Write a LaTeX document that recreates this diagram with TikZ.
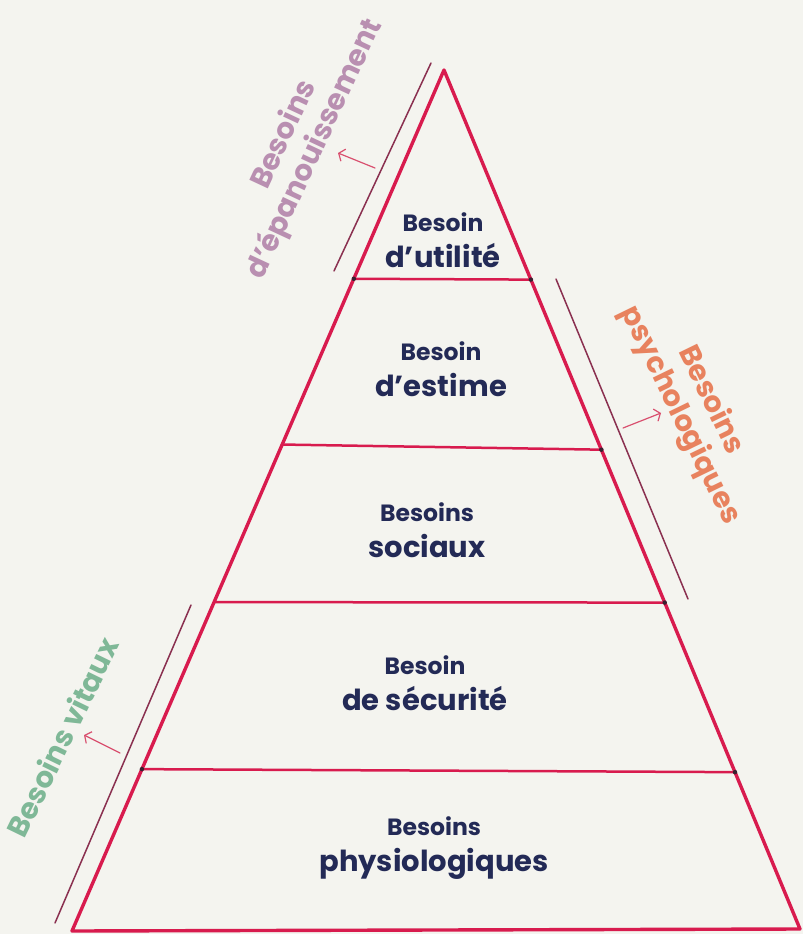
\documentclass[tikz,border=0pt]{standalone}
\usepackage{fontspec}
\setmainfont{Poppins}
\usetikzlibrary{arrows.meta,calc}
\definecolor{paper}{HTML}{F4F4EF}
\definecolor{thread}{HTML}{D81B4E}
\definecolor{guide}{HTML}{8A3050}
\definecolor{pointer}{HTML}{D9506F}
\definecolor{ink}{HTML}{232A56}
\definecolor{knot}{HTML}{3A2030}
\definecolor{mauve}{HTML}{B98FB1}
\definecolor{coral}{HTML}{E8825E}
\definecolor{sage}{HTML}{7FB897}
\newcommand\tiertext[2]{{\fontsize{23.5}{26}\selectfont #1}\\[11pt]{\fontsize{29}{32}\selectfont #2}}
\begin{document}
\begin{tikzpicture}[x=1pt,y=-1pt,
  edge/.style={draw=thread,line width=3.4pt,line join=round,line cap=round},
  rung/.style={draw=thread,line width=2.5pt,line cap=round},
  guideline/.style={draw=guide,line width=1.5pt,line cap=round},
  pointer/.style={draw=pointer,line width=1.2pt,line cap=round,-{Straight Barb[length=5pt,width=13pt]}},
  tier/.style={text=ink,font=\bfseries,align=center,inner sep=0pt},
  side/.style={font=\bfseries\fontsize{29}{34}\selectfont,align=center,inner sep=0pt},
  knotdot/.style={fill=knot,circle,inner sep=0pt,minimum size=4.5pt}]
% paper
\fill[paper] (0,0) rectangle (803,934);
\path[use as bounding box] (0,0) rectangle (803,934);

% pyramid corners
\coordinate (A) at (444,70);
\coordinate (BL) at (72,931);
\coordinate (BR) at (800,929);
% where the rungs meet the sides
\coordinate (L1) at ($(A)!0.2425!(BL)$);
\coordinate (L2) at ($(A)!0.435!(BL)$);
\coordinate (L3) at ($(A)!0.618!(BL)$);
\coordinate (L4) at ($(A)!0.812!(BL)$);
\coordinate (R1) at ($(A)!0.244!(BR)$);
\coordinate (R2) at ($(A)!0.442!(BR)$);
\coordinate (R3) at ($(A)!0.620!(BR)$);
\coordinate (R4) at ($(A)!0.8174!(BR)$);

% outline and rungs
\draw[edge] (BL) -- (A) -- (BR) -- cycle;
\draw[rung] (L1) -- (R1);
\draw[rung] (L2) -- (R2);
\draw[rung] (L3) -- (R3);
\draw[rung] (L4) -- (R4);
\foreach \k in {L1,R1,R2,R3,L4,R4} \node[knotdot] at (\k) {};

% brackets beside the sides
\coordinate (G1a) at (431,63);  \coordinate (G1b) at (334,271);
\coordinate (G2a) at (556,279); \coordinate (G2b) at (688,599);
\coordinate (G3a) at (191,605); \coordinate (G3b) at (55,923);
\draw[guideline] (G1a) -- (G1b);
\draw[guideline] (G2a) -- (G2b);
\draw[guideline] (G3a) -- (G3b);

% little arrows toward the group names
\coordinate (P1a) at (375,168); \coordinate (P1b) at (338,153);
\coordinate (P2a) at (623,428); \coordinate (P2b) at (661,413);
\coordinate (P3a) at (120,753); \coordinate (P3b) at (84,735);
\draw[pointer] (P1a) -- (P1b);
\draw[pointer] (P2a) -- (P2b);
\draw[pointer] (P3a) -- (P3b);

% tier names
\node[tier] (t1) at (443,240) {\tiertext{Besoin}{d’utilité}};
\node[tier] (t2) at (441,369) {\tiertext{Besoin}{d’estime}};
\node[tier] (t3) at (427,530) {\tiertext{Besoins}{sociaux}};
\node[tier] (t4) at (425,683) {\tiertext{Besoin}{de sécurité}};
\node[tier] (t5) at (434,848) {\tiertext{Besoins}{physiologiques}};

% group names
\node[side,text=mauve,rotate=65] (g1) at (300,142) {Besoins\\d’épanouissement};
\node[side,text=coral,rotate=-64] (g2) at (695,408) {Besoins\\psychologiques};
\node[side,text=sage,rotate=64] (g3) at (62,737) {Besoins vitaux};
\end{tikzpicture}
\end{document}
